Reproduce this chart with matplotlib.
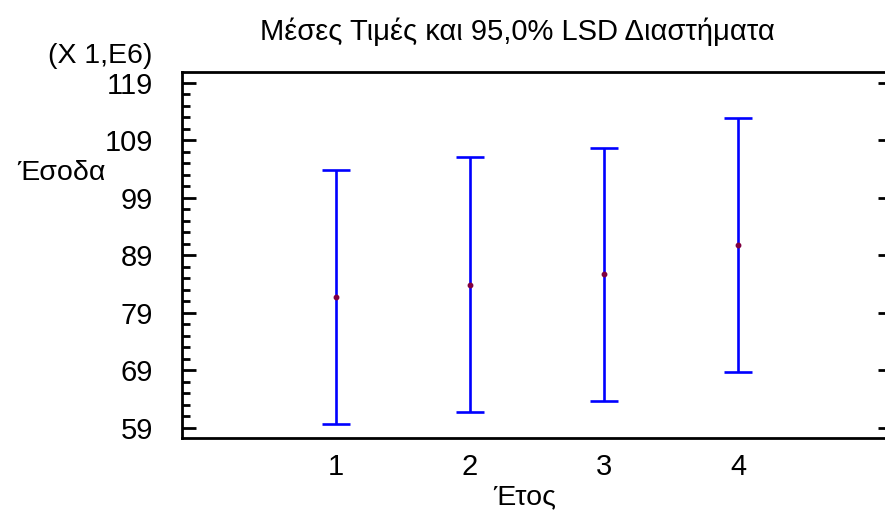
import matplotlib
matplotlib.use('Agg')
from matplotlib import pyplot as plt
import numpy as np

plt.rcParams['font.family'] = ['Liberation Sans', 'DejaVu Sans']

# Έτος groups and 95% LSD intervals (in millions)
years = [1, 2, 3, 4]
means = [81.75, 83.9, 85.75, 90.8]
lower = [59.7, 61.85, 63.65, 68.7]
upper = [103.8, 106.05, 107.75, 112.85]
yticks = [59, 69, 79, 89, 99, 109, 119]

fig = plt.figure(figsize=(8.85, 5.13), dpi=100)
ax = fig.add_axes([182/885, 1 - 438/513, (892 - 182)/885, (438 - 72)/513])

err = [np.array(means) - np.array(lower), np.array(upper) - np.array(means)]
ax.errorbar(years, means, yerr=err, fmt='none', ecolor='#0000ff',
            elinewidth=1.9, capsize=10, capthick=1.9)
ax.plot(years, means, 'o', color='#800040', markersize=3.2)

ax.set_xlim(-0.15, 5.15)
ax.set_ylim(57.26, 120.9)
ax.set_xticks(years)
ax.set_yticks(yticks)
ax.set_yticks(np.arange(59, 121, 2), minor=True)

ax.tick_params(axis='x', length=0, pad=11, labelsize=21)
ax.tick_params(axis='y', which='major', direction='in', length=10, width=2,
               labelsize=21, pad=21, right=True)
ax.tick_params(axis='y', which='minor', direction='in', length=5.5, width=2,
               right=False)
for s in ax.spines.values():
    s.set_linewidth(2)
ax.spines['right'].set_visible(False)

fig.text(517/885, 1 - 32/513, 'Μέσες Τιμές και 95,0% LSD Διαστήματα',
         ha='center', va='center', fontsize=21)
fig.text(152/885, 1 - 56/513, '(X 1,E6)', ha='right', va='center', fontsize=20.5)
fig.text(17/885, 1 - 173/513, 'Έσοδα', ha='left', va='center', fontsize=20.5)
fig.text(525/885, 1 - 497/513, 'Έτος', ha='center', va='center', fontsize=20.5)

fig.savefig('out.png', dpi=100)
